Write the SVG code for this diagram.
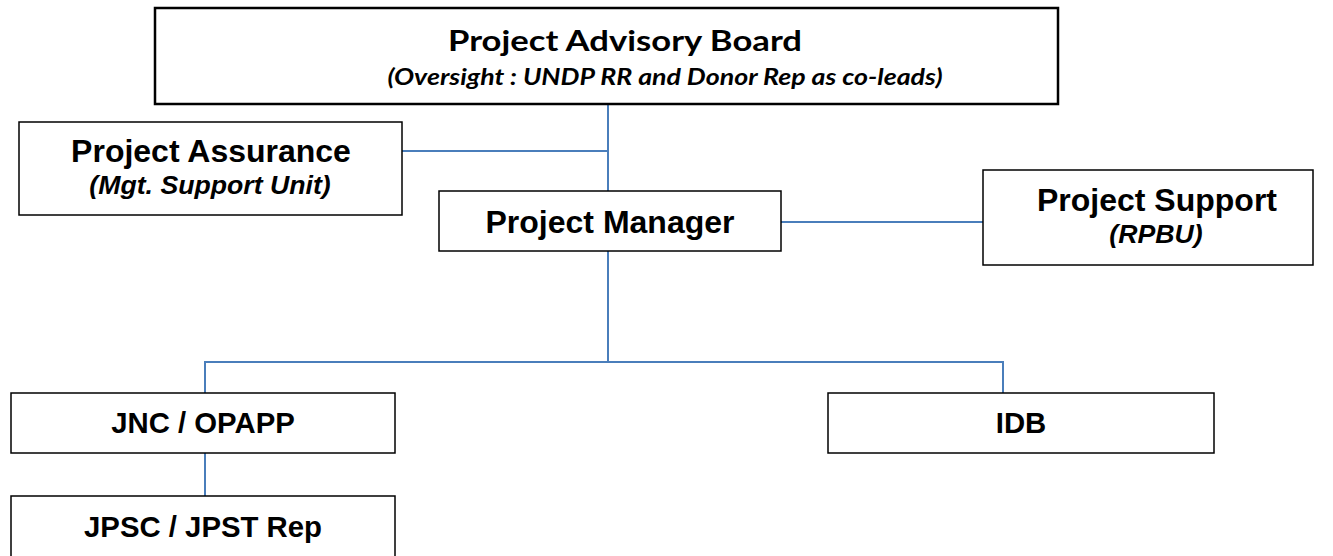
<svg xmlns="http://www.w3.org/2000/svg" width="1333" height="556" viewBox="0 0 1333 556">
<style>
.box{fill:#fff;stroke:#000;stroke-width:1.5}
.top{fill:#fff;stroke:#000;stroke-width:2.5}
.t{font-family:"Liberation Sans",Arial,sans-serif;font-weight:bold;fill:#000;text-anchor:middle}
.i{font-style:italic}
.m{font-family:Lato,"Open Sans",sans-serif;font-weight:bold;fill:#000;text-anchor:middle}
.c{fill:none;stroke:#4a7ebb;stroke-width:2}
</style>
<rect width="1333" height="556" fill="#fff"/>
<g id="connectors">
<path class="c" d="M608 105V191"/>
<path class="c" d="M402 151H608"/>
<path class="c" d="M781 222H983"/>
<path class="c" d="M608 251V362H205V393"/>
<path class="c" d="M608 362H1003V393"/>
<path class="c" d="M205 453V496"/>
</g>
<g id="advisory-board">
<rect class="top" x="155" y="8" width="903" height="96"/>
<text class="m" x="625" y="51" font-size="28" textLength="354" lengthAdjust="spacingAndGlyphs">Project Advisory Board</text>
<text class="m" x="665" y="85" font-size="22.5" font-style="italic" textLength="555" lengthAdjust="spacingAndGlyphs">(Oversight : UNDP RR and Donor Rep as co-leads)</text>
</g>
<g id="project-assurance">
<rect class="box" x="19" y="122" width="383" height="93"/>
<text class="t" x="211" y="162" font-size="32">Project Assurance</text>
<text class="t i" x="210" y="194" font-size="26.67">(Mgt. Support Unit)</text>
</g>
<g id="project-manager">
<rect class="box" x="439" y="191" width="342" height="60"/>
<text class="t" x="610" y="233" font-size="32">Project Manager</text>
</g>
<g id="project-support">
<rect class="box" x="983" y="170" width="330" height="95"/>
<text class="t" x="1157" y="211" font-size="32">Project Support</text>
<text class="t i" x="1156" y="243" font-size="26.67">(RPBU)</text>
</g>
<g id="jnc-opapp">
<rect class="box" x="11" y="393" width="384" height="60"/>
<text class="t" x="203" y="433" font-size="29.33">JNC / OPAPP</text>
</g>
<g id="idb">
<rect class="box" x="828" y="393" width="386" height="60"/>
<text class="t" x="1021" y="433" font-size="29.33">IDB</text>
</g>
<g id="jpsc-jpst">
<rect class="box" x="11" y="496" width="384" height="70"/>
<text class="t" x="203" y="537" font-size="29.33">JPSC / JPST Rep</text>
</g>
</svg>
